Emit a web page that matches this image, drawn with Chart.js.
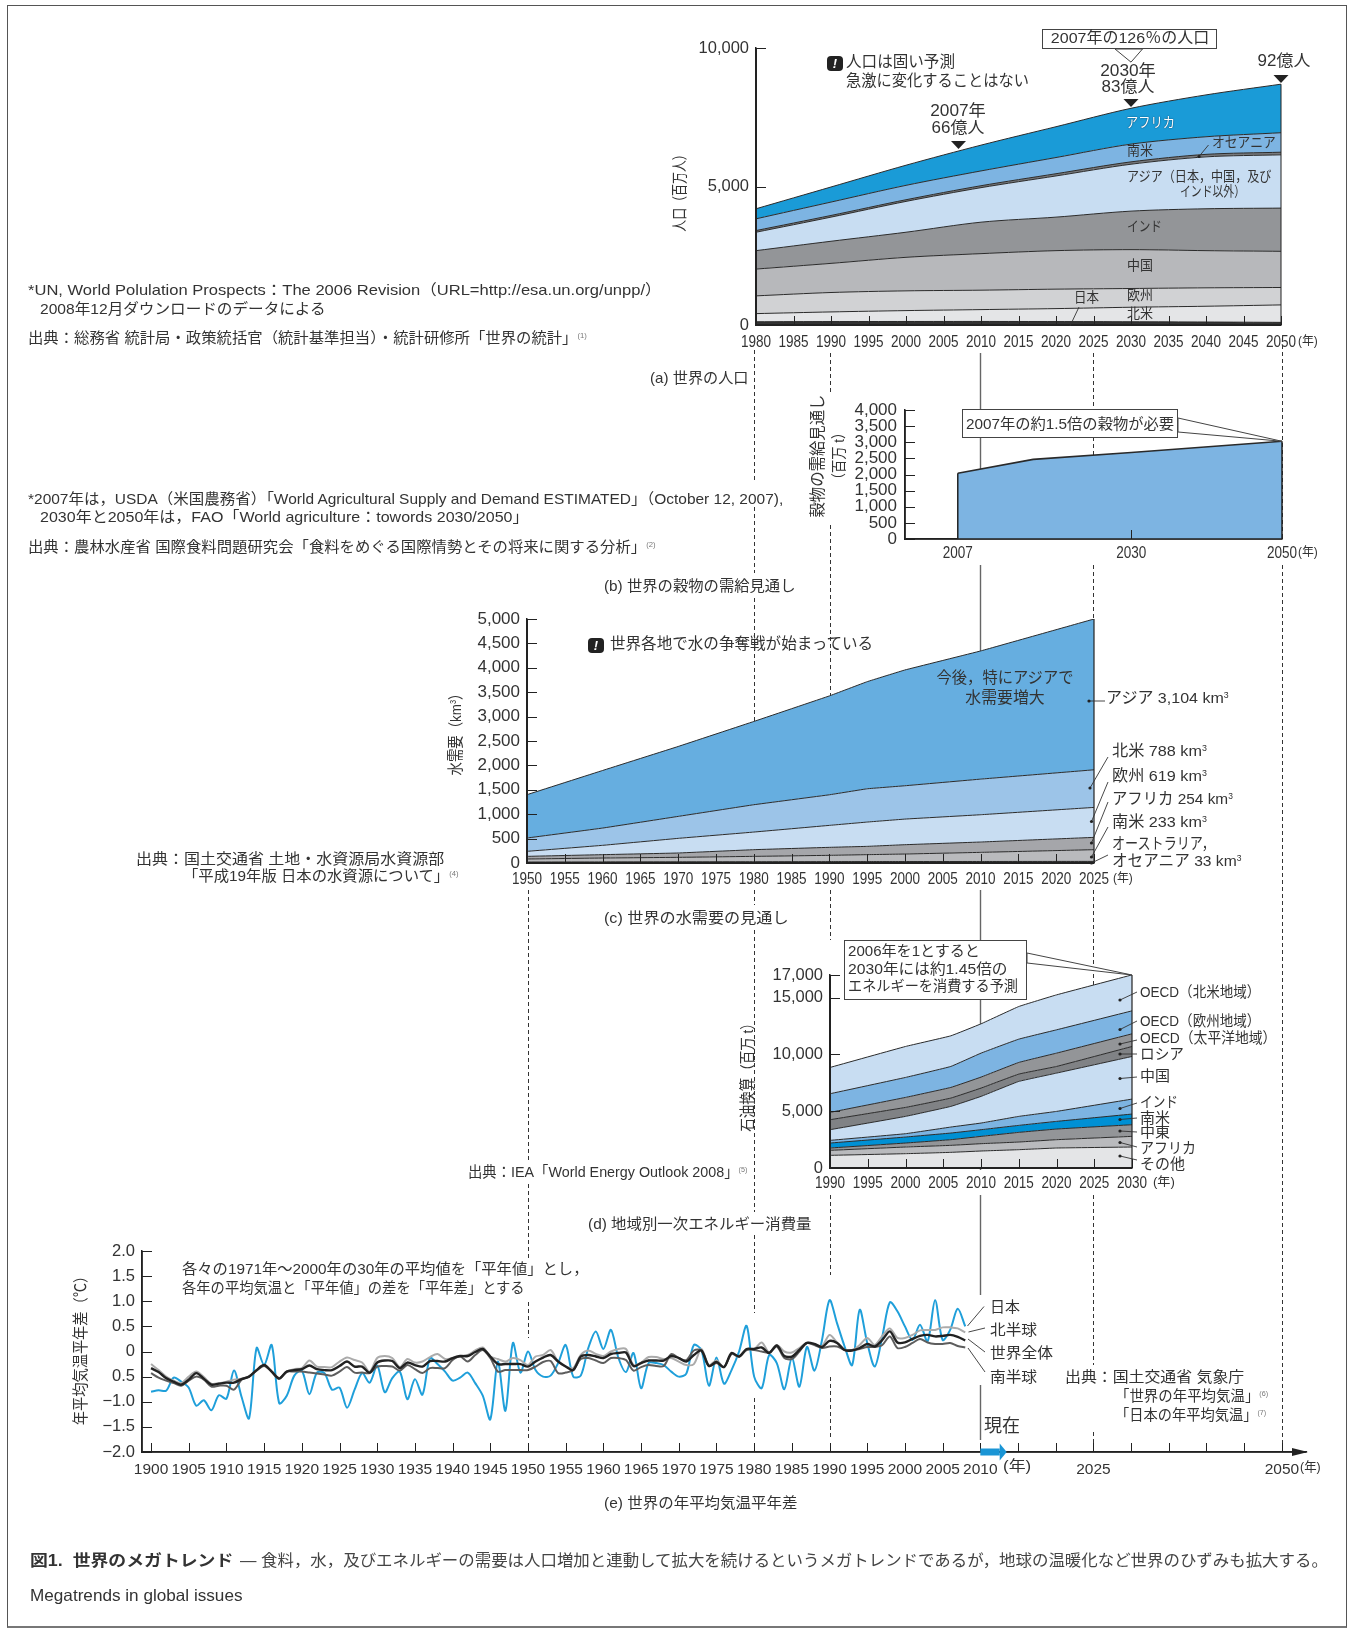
<!DOCTYPE html>
<html lang="ja">
<head>
<meta charset="utf-8">
<title>世界のメガトレンド</title>
<script src="https://cdn.jsdelivr.net/npm/chart.js@4"></script>
<style>
html,body{margin:0;padding:0;background:#fff;}
#page{position:relative;width:1351px;height:1629px;overflow:hidden;background:#fff;}
#frame{position:absolute;left:7px;top:5px;width:1338px;height:1620px;border:1px solid #555;border-bottom:2px solid #777;}
canvas{position:absolute;z-index:2;}
svg{position:absolute;left:0;top:0;}
.t{position:absolute;white-space:nowrap;line-height:1;color:#333;z-index:4;font-family:"Liberation Sans","Noto Sans CJK JP",sans-serif;}
.t sup{font-size:.55em;line-height:0;vertical-align:.6em;}
.t sup.ref{font-size:.5em;color:#777;}
.box{position:absolute;background:#fff;border:1px solid #444;z-index:3;box-sizing:border-box;}
.badge{position:absolute;background:#222;border-radius:4px;z-index:4;color:#fff;font:italic bold 13px "Liberation Sans";text-align:center;}
</style>
</head>
<body>
<div id="page"><div id="frame"></div></div>
<script>
// (a) 世界の人口 (百万人) 積み上げの各層
const popYears = [1980,1990,2000,2010,2020,2030,2040,2050];
const popJapan = [117,124,127,128,124,117,108,95];
const popNorthAm = [294,348,393,428,468,524,569,630];
const popEurope = [641,701,713,701,702,677,665,629];
const popChina = [967,1052,1210,1319,1390,1403,1342,1306];
const popIndia = [665,798,906,1136,1210,1390,1512,1560];
const popAsia = [665,871,1113,1246,1487,1693,1874,1923];
const popOceania = [60,60,60,70,80,85,90,95];
const popSouthAm = [424,484,520,534,585,641,636,703];
const popAfrica = [363,544,726,931,1112,1293,1511,1753];
const popMarkYears = [2007,2030,2050];
const popMarkValues = [6350,7870,8740];
const popXTicks = [1980,1985,1990,1995,2000,2005,2010,2015,2020,2025,2030,2035,2040,2045,2050];
const popYTicks = [0,5000,10000];

// (b) 穀物の需給見通し (百万t)
const grainYears = [2007,2017,2030,2050];
const grainValues = [2040,2470,2680,3030];
const grainXTicks = [2007,2030,2050];
const grainYTicks = [0,500,1000,1500,2000,2500,3000,3500,4000];

// (c) 水需要 (km3)
const waterYears = [1950,1960,1970,1980,1990,1995,2000,2010,2025];
const waterOceania = [20,22,24,26,28,29,30,31,33];
const waterSouthAm = [62,80,92,110,129,142,154,187,240];
const waterAfrica = [54,69,89,137,164,170,191,212,252];
const waterEurope = [103,191,300,361,450,498,525,559,614];
const waterNorthAm = [273,354,450,560,627,682,683,730,771];
const waterAsia = [888,1180,1433,1706,2026,2195,2373,2626,3090];
const waterXTicks = [1950,1955,1960,1965,1970,1975,1980,1985,1990,1995,2000,2005,2010,2015,2020,2025];
const waterYTicks = [0,500,1000,1500,2000,2500,3000,3500,4000,4500,5000];

// (d) 一次エネルギー消費量 (石油換算 百万t)
const energyYears = [1990,2000,2006,2010,2015,2020,2030];
const energyOther = [1114,1261,1378,1496,1613,1760,1848];
const energyAfrica = [440,587,616,645,674,733,938];
const energyMidEast = [206,351,499,645,851,938,1026];
const energySouthAm = [439,528,586,586,616,675,939];
const energyIndia = [235,294,528,587,791,879,1319];
const energyChina = [938,1524,1818,2346,3080,3373,3754];
const energyRussia = [880,792,733,733,645,586,880];
const energyPacific = [645,880,939,968,1026,1173,1114];
const energyEurope = [1643,1760,1847,2111,2053,2053,2024];
const energyNorthAm = [2316,2727,2698,2581,2874,3079,3167];
const energyXTicks = [1990,1995,2000,2005,2010,2015,2020,2025,2030];
const energyYTicks = [0,5000,10000,15000,17000];

// (e) 年平均気温平年差 1900-2008
const tempStartYear = 1900;
const tempJapan = [-.8,-.77,-.78,-.52,-.6,-.72,-1.08,-.97,-1.17,-.87,
 -.94,-.38,-.9,-1.33,.07,-.27,.13,-1.03,-.88,-.48,
 -.38,-.85,-.42,-.43,-.76,-.72,-1.12,-.76,-.43,-.62,
 -.28,-.81,-.53,-.4,-.95,-.55,-.86,-.13,-.25,-.4,
 -.58,-.52,-.42,-.63,-.88,-1.35,-.2,-1.18,.17,-.42,
 0,-.37,-.5,-.48,-.23,.13,-.5,-.48,.07,.4,
 .05,.43,-.13,-.41,-.03,-.73,-.23,-.23,-.27,-.4,
 -.5,-.44,.13,.03,-.68,-.12,-.64,-.37,0,.51,
 -.5,-.73,-.07,-.23,-.75,-.13,-.7,.09,-.38,.23,
 1.02,.56,.1,-.27,.83,.17,-.3,.3,.98,.8,
 .5,.23,.53,.2,1.02,.23,.43,.85,.5];
const tempWorld = [-.33,-.41,-.53,-.6,-.66,-.56,-.43,-.54,-.66,-.64,
 -.62,-.62,-.55,-.5,-.37,-.27,-.4,-.54,-.4,-.37,
 -.35,-.28,-.35,-.37,-.37,-.29,-.2,-.3,-.3,-.42,
 -.22,-.18,-.19,-.33,-.22,-.27,-.3,-.19,-.19,-.2,
 -.13,-.09,-.09,-.01,.05,-.1,-.25,-.25,-.25,-.25,
 -.3,-.2,-.12,-.07,-.2,-.3,-.37,-.1,-.07,-.1,
 -.13,-.05,-.03,-.02,-.29,-.23,-.18,-.18,-.18,-.09,
 -.13,-.2,-.07,.02,-.29,-.21,-.31,-.03,-.1,.05,
 .05,.08,-.03,.12,-.09,-.1,.03,.17,.15,.09,
 .21,.17,.03,.02,.07,.15,.1,.23,.4,.18,
 .18,.25,.31,.33,.3,.31,.33,.29,.22];
const tempNorth = [-.25,-.37,-.5,-.58,-.63,-.5,-.4,-.51,-.64,-.63,
 -.6,-.56,-.54,-.5,-.37,-.27,-.4,-.54,-.4,-.35,
 -.33,-.18,-.3,-.31,-.31,-.2,-.12,-.17,-.22,-.4,
 -.13,-.09,-.13,-.31,-.15,-.22,-.2,-.11,-.05,-.15,
 -.13,-.09,-.07,.02,.08,-.1,-.15,-.2,-.13,-.17,
 -.27,-.1,-.07,.03,-.2,-.3,-.33,-.07,.02,-.05,
 -.09,0,.05,.05,-.27,-.22,-.11,-.11,-.15,-.13,
 -.2,-.27,-.25,.05,-.27,-.18,-.31,-.05,-.11,.05,
 .05,.18,-.02,.13,0,-.02,.07,.17,.13,.11,
 .33,.18,.03,.03,.13,.27,.13,.31,.46,.27,
 .27,.33,.42,.43,.43,.48,.48,.46,.38];
const tempSouth = [-.43,-.52,-.58,-.63,-.68,-.58,-.5,-.56,-.7,-.68,
 -.68,-.76,-.56,-.5,-.38,-.29,-.4,-.53,-.4,-.4,
 -.4,-.42,-.44,-.46,-.48,-.4,-.31,-.42,-.42,-.43,
 -.3,-.29,-.3,-.38,-.27,-.35,-.43,-.33,-.33,-.33,
 -.17,-.1,-.2,-.07,.03,-.13,-.4,-.37,-.37,-.37,
 -.37,-.3,-.21,-.19,-.43,-.42,-.37,-.15,-.13,-.18,
 -.23,-.13,-.13,-.17,-.38,-.31,-.27,-.29,-.29,-.05,
 -.13,-.17,.02,.02,-.29,-.23,-.31,-.05,-.1,.03,
 .03,0,-.02,.1,-.13,-.15,0,.17,.13,.07,
 .1,.1,.03,.03,.05,.09,.09,.13,.3,.07,
 .09,.17,.25,.18,.15,.15,.17,.11,.08];
const tempXTicks = [1900,1905,1910,1915,1920,1925,1930,1935,1940,1945,1950,1955,1960,1965,1970,1975,1980,1985,1990,1995,2000,2005,2010,2015,2020,2025,2030,2035,2040,2045,2050];
const tempXLabelled = [1900,1905,1910,1915,1920,1925,1930,1935,1940,1945,1950,1955,1960,1965,1970,1975,1980,1985,1990,1995,2000,2005,2010,2025,2050];
const tempYTicks = [-2,-1.5,-1,-.5,0,.5,1,1.5,2];
const tempYLabels = ['−2.0','−1.5','−1.0','0.5','0','0.5','1.0','1.5','2.0']; // 図の表記のまま

const page = document.getElementById('page');
const FONT = '"Liberation Sans","Noto Sans CJK JP",sans-serif';
const INK = '#333';

// 枠内の目盛り、右端の縦線、三角マーク、矢印、長体の年ラベルをまとめて描く
const panelDecor = {
  id:'panelDecor',
  afterDatasetsDraw(chart,args,o){
    const {ctx,chartArea:a,scales:{x,y}} = chart;
    ctx.save();
    ctx.strokeStyle = '#222';
    ctx.lineWidth = 1;
    (o.xTicks || x.ticks.map(t=>t.value)).forEach(v=>{
      const px = Math.round(x.getPixelForValue(v))+.5;
      ctx.beginPath();ctx.moveTo(px,a.bottom);ctx.lineTo(px,a.bottom-9);ctx.stroke();
    });
    y.ticks.forEach(t=>{
      const py = Math.round(y.getPixelForValue(t.value))+.5;
      ctx.beginPath();ctx.moveTo(a.left,py);ctx.lineTo(a.left+10,py);ctx.stroke();
    });
    // 面グラフの両端
    const topMeta = chart.getDatasetMeta(o.edgeSet===undefined?0:o.edgeSet);
    if(o.edges){
      ctx.lineWidth = o.edges;
      if(o.leftEdge){
        const p = topMeta.data[0];
        ctx.beginPath();ctx.moveTo(p.x,a.bottom);ctx.lineTo(p.x,p.y);ctx.stroke();
      }
      const p = topMeta.data[topMeta.data.length-1];
      ctx.beginPath();ctx.moveTo(p.x,a.bottom);ctx.lineTo(p.x,p.y);ctx.stroke();
    }
    // 軸線を面の上に重ね直す
    ctx.lineWidth = o.axisWidth || 1.5;
    ctx.beginPath();ctx.moveTo(a.left,a.top);ctx.lineTo(a.left,a.bottom);ctx.lineTo(a.right,a.bottom);ctx.stroke();
    if(o.marks){
      ctx.fillStyle = '#222';
      o.marks.xs.forEach((v,i)=>{
        const mx = x.getPixelForValue(v), my = y.getPixelForValue(o.marks.ys[i]);
        ctx.beginPath();ctx.moveTo(mx,my);ctx.lineTo(mx-7.5,my-8);ctx.lineTo(mx+7.5,my-8);ctx.closePath();ctx.fill();
      });
    }
    if(o.arrows){
      // 横軸の矢じり
      ctx.fillStyle = '#222';
      ctx.beginPath();ctx.moveTo(a.right+2,a.bottom);ctx.lineTo(a.right-14,a.bottom-4);ctx.lineTo(a.right-14,a.bottom+4);ctx.closePath();ctx.fill();
      // 現在の青い矢印
      const x0 = x.getPixelForValue(o.arrows.from), x1 = x.getPixelForValue(o.arrows.to);
      ctx.fillStyle = '#1a95d5';
      ctx.fillRect(x0,a.bottom-3.5,x1-x0-7,7);
      ctx.beginPath();ctx.moveTo(x1,a.bottom);ctx.lineTo(x1-7,a.bottom-8.5);ctx.lineTo(x1-7,a.bottom+8.5);ctx.closePath();ctx.fill();
    }
    if(o.narrow){
      // 狭い書体がないので横方向に縮めて描く
      ctx.fillStyle = INK;
      ctx.font = '16.5px '+FONT;
      ctx.textAlign = 'center';
      ctx.textBaseline = 'middle';
      x.ticks.forEach(t=>{
        ctx.save();
        ctx.translate(x.getPixelForValue(t.value),a.bottom+o.narrow);
        ctx.scale(.82,1);
        ctx.fillText(String(t.value),0,0);
        ctx.restore();
      });
    }
    ctx.restore();
  }
};
Chart.register(panelDecor);

function areaSets(years,layers,tension){
  return layers.map((l,i)=>({
    label:l[0],
    data:years.map((yr,k)=>({x:yr,y:l[1][k]})),
    fill:i?'-1':'origin',
    backgroundColor:l[2],
    borderColor:'#2a2a2a',
    borderWidth:1,
    pointRadius:0,
    tension:tension
  }));
}

// 図の領域 L,T,R,B がそのままプロット領域になるようキャンバスを置く
// mt は軸ラベルのはみ出しより大きくしておく(小さいと上端がずれる)
function panel(L,T,R,B,sets,xo,yo,decor){
  const ml=70, mr=50, mt=30, mb=34;
  const c = document.createElement('canvas');
  c.width = R-L+ml+mr; c.height = B-T+mt+mb;
  c.style.left = (L-ml)+'px'; c.style.top = (T-mt)+'px';
  page.appendChild(c);
  const ch = new Chart(c,{
    type:'line',
    data:{datasets:sets},
    options:{
      responsive:false,animation:false,devicePixelRatio:1,
      layout:{padding:{left:0,right:mr,top:mt,bottom:0}},
      plugins:{legend:{display:false},tooltip:{enabled:false},title:{display:false},panelDecor:decor},
      scales:{
        x:{type:'linear',min:xo.min,max:xo.max,
          afterBuildTicks:s=>{s.ticks=xo.ticks.map(value=>({value}));},
          afterFit:s=>{s.height=mb;},
          grid:{drawOnChartArea:false,drawTicks:false},
          border:{color:'#222',width:1.5},
          ticks:{display:!decor.narrow,autoSkip:false,maxRotation:0,minRotation:0,padding:xo.pad,color:INK,
            font:{family:FONT,size:xo.size},callback:xo.label||(v=>String(v))}},
        y:{type:'linear',stacked:!!yo.stacked,min:yo.min,max:yo.max,
          afterBuildTicks:s=>{s.ticks=yo.ticks.map(value=>({value}));},
          afterFit:s=>{s.width=ml;},
          grid:{drawOnChartArea:false,drawTicks:false},
          border:{color:'#222',width:1.5},
          ticks:{autoSkip:false,padding:yo.pad,color:INK,
            font:{family:FONT,size:yo.size},
            callback:yo.label||(v=>v.toLocaleString('en-US'))}}
      }
    }
  });
  ch.pageLeft = L-ml; ch.pageTop = T-mt;
  return ch;
}
function pagePx(ch,xv,yv){
  return [ch.pageLeft+ch.scales.x.getPixelForValue(xv), ch.pageTop+ch.scales.y.getPixelForValue(yv)];
}

const chartA = panel(756,48,1281,325,
  areaSets(popYears,[
    ['日本',popJapan,'#333333'],
    ['北米',popNorthAm,'#e4e5e7'],
    ['欧州',popEurope,'#d1d2d4'],
    ['中国',popChina,'#b7b8bb'],
    ['インド',popIndia,'#939598'],
    ['アジア',popAsia,'#c8ddf2'],
    ['オセアニア',popOceania,'#77797c'],
    ['南米',popSouthAm,'#7db4e2'],
    ['アフリカ',popAfrica,'#1a9bd7']
  ],.3),
  {min:1980,max:2050,ticks:popXTicks},
  {stacked:true,min:0,max:10000,ticks:popYTicks,pad:7,size:16.5},
  {edges:1,edgeSet:8,axisWidth:2,marks:{xs:popMarkYears,ys:popMarkValues},narrow:17});

const chartB = panel(905,410,1282,539,
  areaSets(grainYears,[['穀物',grainValues,'#7db4e2']],0),
  {min:2000,max:2050,ticks:grainXTicks},
  {min:0,max:4000,ticks:grainYTicks,pad:8,size:17},
  {xTicks:[2030],edges:1.5,edgeSet:0,leftEdge:true,narrow:14});
chartB.data.datasets[0].borderWidth = 1.6;
chartB.update();

const chartC = panel(527,619,1094,863,
  areaSets(waterYears,[
    ['オセアニア',waterOceania,'#2e2e2e'],
    ['南米',waterSouthAm,'#b9babd'],
    ['アフリカ',waterAfrica,'#a5a6aa'],
    ['欧州',waterEurope,'#c8ddf2'],
    ['北米',waterNorthAm,'#9cc4e8'],
    ['アジア',waterAsia,'#66aee0']
  ],.05),
  {min:1950,max:2025,ticks:waterXTicks},
  {stacked:true,min:0,max:5000,ticks:waterYTicks,pad:7,size:17},
  {edges:1.2,edgeSet:5,axisWidth:2,narrow:16});

const chartD = panel(830,975,1132,1168,
  areaSets(energyYears,[
    ['その他',energyOther,'#e4e5e7'],
    ['アフリカ',energyAfrica,'#b9babd'],
    ['中東',energyMidEast,'#939598'],
    ['南米',energySouthAm,'#0090d4'],
    ['インド',energyIndia,'#7db4e2'],
    ['中国',energyChina,'#c8ddf2'],
    ['ロシア',energyRussia,'#808285'],
    ['OECD太平洋',energyPacific,'#939598'],
    ['OECD欧州',energyEurope,'#7db4e2'],
    ['OECD北米',energyNorthAm,'#c8ddf2']
  ],.08),
  {min:1990,max:2030,ticks:energyXTicks},
  {stacked:true,min:0,max:17000,ticks:energyYTicks,pad:7,size:16.5},
  {edges:1.2,edgeSet:9,axisWidth:2,narrow:15});

function tempLine(vals,color,width){
  return {data:vals.map((v,i)=>({x:tempStartYear+i,y:v})),borderColor:color,borderWidth:width,pointRadius:0,fill:false,tension:.3};
}
const chartE = panel(142,1251,1306,1452,
  [tempLine(tempWorld,'#222222',2.4),tempLine(tempSouth,'#5d5d5d',2),tempLine(tempNorth,'#ababab',2),tempLine(tempJapan,'#1f9fda',2)],
  {min:1898.8,max:2053.2,ticks:tempXTicks,pad:8,size:15.5,
    label:v=>tempXLabelled.includes(v)?String(v):''},
  {min:-2,max:2,ticks:tempYTicks,pad:7,size:16.5,label:v=>tempYLabels[tempYTicks.indexOf(v)]},
  {axisWidth:1.5,arrows:{from:2010,to:2013.5}});

// テキスト。w を渡すと横幅をその値に合わせる
function t(html,x,y,o){
  o = o||{};
  const s = document.createElement('span');
  s.className = 't';
  s.innerHTML = html;
  s.style.left = x+'px'; s.style.top = (y-1)+'px';
  s.style.fontSize = (o.size||15)+'px';
  if(o.color) s.style.color = o.color;
  if(o.bold) s.style.fontWeight = 'bold';
  if(o.shadow) s.style.textShadow = o.shadow;
  page.appendChild(s);
  const k = o.w ? o.w/s.offsetWidth : 1;
  if(o.rot){
    s.style.transform = 'translate(-50%,-50%) rotate('+o.rot+'deg) scaleX('+k+')';
  }else if(o.c){
    s.style.transform = 'translate(-50%,-50%) scaleX('+k+')';
  }else{
    s.style.transformOrigin = 'left center';
    s.style.transform = 'translateY(-50%) scaleX('+k+')';
  }
}
function box(x0,y0,x1,y1){
  const b = document.createElement('div');
  b.className = 'box';
  b.style.cssText = 'left:'+x0+'px;top:'+y0+'px;width:'+(x1-x0)+'px;height:'+(y1-y0)+'px';
  page.appendChild(b);
}
function badge(x,y){
  const b = document.createElement('div');
  b.className = 'badge';
  b.textContent = '!';
  b.style.cssText = 'left:'+x+'px;top:'+(y-7)+'px;width:16px;height:15px;line-height:15px';
  page.appendChild(b);
}
const ref = n => '<sup class="ref">('+n+')</sup>';
const km3 = 'km<sup>3</sup>';

// 左の注記
t('*UN, World Polulation Prospects：The 2006 Revision（URL=http://esa.un.org/unpp/）',28,289.5,{w:634});
t('2008年12月ダウンロードのデータによる',40,308.5,{w:286});
t('出典：総務省 統計局・政策統括官（統計基準担当）・統計研修所「世界の統計」'+ref(1),28,338,{w:559});
t('*2007年は，USDA（米国農務省）「World Agricultural Supply and Demand ESTIMATED」（October 12, 2007),',28,499,{w:755});
t('2030年と2050年は，FAO「World agriculture：towords 2030/2050」',40,517,{w:488});
t('出典：農林水産省 国際食料問題研究会「食料をめぐる国際情勢とその将来に関する分析」'+ref(2),28,547,{w:628});
t('(a) 世界の人口',650,378,{w:99});
t('(b) 世界の穀物の需給見通し',604,585.5,{w:192});
t('(c) 世界の水需要の見通し',604,917.5,{w:185});
t('(d) 地域別一次エネルギー消費量',588,1224,{w:224});
t('(e) 世界の年平均気温平年差',604,1502.5,{w:194});

// (a)
t('人口（百万人）',680,191,{rot:-90,w:84,size:15.5});
badge(827,63);
t('人口は固い予測',846,63,{w:109,size:16});
t('急激に変化することはない',846,82,{w:183,size:16});
t('2007年',958,112,{c:1,size:16,w:56});
t('66億人',958,129,{c:1,size:16,w:53});
t('2030年',1128,72,{c:1,size:16,w:56});
t('83億人',1128,88,{c:1,size:16,w:53});
t('92億人',1283.5,61.5,{c:1,size:16,w:53});
t('2007年の126％の人口',1129.5,39,{c:1,size:15.5,w:158});
t('アフリカ',1126,123,{w:49,size:14,color:'#fff',shadow:'0 0 1.5px #0a4a70,0 0 1px #0a4a70'});
t('南米',1126.5,152,{w:26,size:13.5});
t('オセアニア',1211.5,143,{w:64,size:14});
t('アジア（日本，中国，及び',1126.5,177,{w:144,size:14});
t('インド以外）',1180,192,{w:65,size:14});
t('インド',1126.5,227,{w:35,size:14});
t('中国',1126.5,267,{w:26,size:13.5});
t('欧州',1126.5,297,{w:26,size:13.5});
t('北米',1126.5,315,{w:26,size:13.5});
t('日本',1074,299,{w:25,size:13.5});
t('(年)',1298,342,{w:20,size:12.5});

// (b)
t('穀物の需給見通し',818,457,{rot:-90,w:123,size:16});
t('（百万 t）',838,457,{rot:-90,w:60,size:15});
t('2007年の約1.5倍の穀物が必要',1070,424,{c:1,w:208,size:15});
t('(年)',1298,553,{w:20,size:12.5});

// (c)
t('水需要（km<sup>3</sup>）',456,732,{rot:-90,w:89,size:15.5});
badge(588,645);
t('世界各地で水の争奪戦が始まっている',610,645,{w:263,size:15.5});
t('今後，特にアジアで',1004.5,679,{c:1,w:137,size:15.5});
t('水需要増大',1004.5,699,{c:1,w:80,size:15.5});
t('アジア 3,104 '+km3,1106,699,{w:123,size:15.5});
t('北米 788 '+km3,1111.5,752,{w:95,size:15.5});
t('欧州 619 '+km3,1111.5,777,{w:95,size:15.5});
t('アフリカ 254 '+km3,1111.5,800,{w:121,size:15.5});
t('南米 233 '+km3,1111.5,823,{w:95,size:15.5});
t('オーストラリア，',1111.5,845,{w:103,size:15.5});
t('オセアニア 33 '+km3,1111.5,862,{w:129,size:15.5});
t('(年)',1112.5,879,{w:20,size:12.5});
t('出典：国土交通省 土地・水資源局水資源部',136,859,{w:308});
t('「平成19年版 日本の水資源について」'+ref(4),183,876,{w:276});

// (d)
t('2006年を1とすると',848,952,{w:132,size:14.5});
t('2030年には約1.45倍の',848,970,{w:159,size:14.5});
t('エネルギーを消費する予測',848,987,{w:170,size:14.5});
t('石油換算（百万 t）',748,1075,{rot:-90,w:116,size:15.5});
t('(年)',1153,1183,{w:22,size:12.5});
t('OECD（北米地域）',1140,992,{w:120,size:15});
t('OECD（欧州地域）',1140,1021,{w:120,size:15});
t('OECD（太平洋地域）',1140,1038,{w:136,size:15});
t('ロシア',1140,1054,{w:44,size:15});
t('中国',1140,1076,{w:30,size:15});
t('インド',1140,1102,{w:38,size:15});
t('南米',1140,1118,{w:30,size:15});
t('中東',1140,1132,{w:30,size:15});
t('アフリカ',1140,1148,{w:56,size:15});
t('その他',1140,1164,{w:45,size:15});
t('出典：IEA「World Energy Outlook 2008」'+ref(5),467.5,1172,{w:279});

// (e)
t('年平均気温平年差（℃）',81,1348,{rot:-90,w:157,size:15.5});
t('各々の1971年〜2000年の30年の平均値を「平年値」とし，',181.5,1269,{w:406});
t('各年の平均気温と「平年値」の差を「平年差」とする',181.5,1288,{w:343});
t('日本',990,1307,{w:30,size:15});
t('北半球',990,1330,{w:47,size:15});
t('世界全体',990,1352.5,{w:63,size:15});
t('南半球',990,1376.5,{w:47,size:15});
t('現在',984,1427,{w:36,size:18});
t('(年)',1003,1467,{w:28,size:14.5});
t('(年)',1300,1467,{w:21,size:13});
t('出典：国土交通省 気象庁',1065,1377,{w:179});
t('「世界の年平均気温」'+ref(6),1115,1396,{w:153});
t('「日本の年平均気温」'+ref(7),1115,1415,{w:151});

// キャプション
t('図1.&nbsp;&nbsp;世界のメガトレンド',30,1562,{w:203,size:16,bold:true});
t('— 食料，水，及びエネルギーの需要は人口増加と連動して拡大を続けるというメガトレンドであるが，地球の温暖化など世界のひずみも拡大する。',240,1562,{w:1088,size:16,color:'#444'});
t('Megatrends in global issues',30,1596,{w:213,size:16.5});

// 5つの図を貫く年の基準線(区間は文字を避ける)
const guideSpans = [
  [1950,[[890,1160],[1184,1258],[1302,1338],[1385,1440]]],
  [1980,[[350,482],[507,573],[598,863],[890,905],[930,1212],[1235,1313],[1398,1440]]],
  [1990,[[353,392],[525,863],[890,940],[1195,1275],[1377,1440]]],
  [2025,[[353,539],[565,863],[890,1170],[1195,1365],[1432,1448]]],
  [2050,[[345,539],[565,1448]]]
];
const nowSpans = [[353,539],[565,863],[890,1170],[1195,1295],[1385,1440]];

const NS = 'http://www.w3.org/2000/svg';
function svgLayer(z){
  const s = document.createElementNS(NS,'svg');
  s.setAttribute('width',1351); s.setAttribute('height',1629);
  s.style.zIndex = z;
  page.appendChild(s);
  return s;
}
function line(s,x1,y1,x2,y2,color,w,dash){
  const l = document.createElementNS(NS,'line');
  l.setAttribute('x1',x1);l.setAttribute('y1',y1);l.setAttribute('x2',x2);l.setAttribute('y2',y2);
  l.setAttribute('stroke',color);l.setAttribute('stroke-width',w);
  if(dash) l.setAttribute('stroke-dasharray',dash);
  s.appendChild(l);
}
const behind = svgLayer(1);
const yearX = yr => Math.round(pagePx(chartE,yr,0)[0])+.5;
guideSpans.forEach(g=>g[1].forEach(sp=>line(behind,yearX(g[0]),sp[0],yearX(g[0]),sp[1],'#333',1,'4 3')));
nowSpans.forEach(sp=>line(behind,yearX(2010),sp[0],yearX(2010),sp[1],'#666',1.4));

const front = svgLayer(3);
function callout(points){
  const p = document.createElementNS(NS,'polygon');
  p.setAttribute('points',points.map(q=>q.join(',')).join(' '));
  p.setAttribute('fill','#fff');p.setAttribute('stroke','#444');p.setAttribute('stroke-width',1);
  front.appendChild(p);
}
// 吹き出し(枠は線の上に乗せる)
callout([[1115,49],pagePx(chartA,2030,9490),[1142.5,49]]);
callout([[1178,418],pagePx(chartB,2050,grainValues[3]),[1178,432]]);
callout([[1027,953],pagePx(chartD,2030,17000),[1027,963]]);
box(1041.5,29,1217,49);
box(961.5,409,1178,438);
box(844,940,1027,1000);

// 引き出し線 [x1,y1,x2,y2]
const leaders = [
  [1208.5,145,1199,156.5],[1079,307,1070,326],
  [1089,701,1105,701],[1108,757,1090,788],[1108,782,1091.5,821.5],[1108,802,1091.5,843],[1108,827,1091.5,857],[1108,855,1091.5,863],
  [1120,1000,1137,992],[1120,1029.5,1137,1021],[1120,1044,1137,1040],[1120,1054,1137,1054],[1120,1078.5,1137,1077],
  [1120,1108.5,1137,1103],[1120,1119.5,1137,1118],[1120,1131,1137,1132],[1120,1142.5,1137,1147],[1120,1156,1137,1160],
  [984,1306.5,967.5,1326],[985,1328,968.5,1332],[985,1352,968,1339],[985,1372,968,1348]
];
leaders.forEach(l=>line(front,l[0],l[1],l[2],l[3],'#333',.9));
const dots = [[1199,156.5],[1089,701],[1090,788],[1091.5,821.5],[1091.5,843],[1091.5,857],[1091.5,863],
  [1120,1000],[1120,1029.5],[1120,1044],[1120,1054],[1120,1078.5],[1120,1108.5],[1120,1119.5],[1120,1131],[1120,1142.5],[1120,1156]];
dots.forEach(d=>{
  const c = document.createElementNS(NS,'circle');
  c.setAttribute('cx',d[0]);c.setAttribute('cy',d[1]);c.setAttribute('r',1.6);c.setAttribute('fill','#222');
  front.appendChild(c);
});
</script>
</body>
</html>
